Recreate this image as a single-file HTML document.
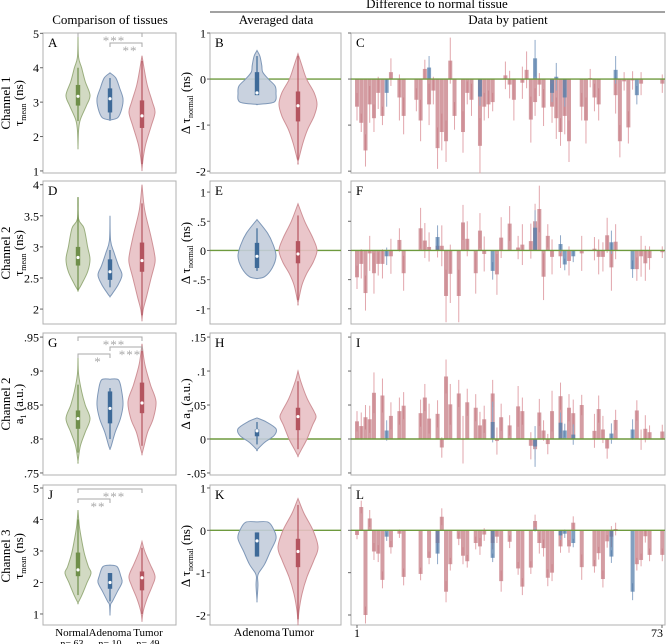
<!DOCTYPE html>
<html><head><meta charset="utf-8">
<style>
body{margin:0;background:#fff;}
svg{display:block;font-family:"Liberation Serif",serif;}
</style></head>
<body>
<svg id="fig" width="669" height="644" viewBox="0 0 669 644" xmlns="http://www.w3.org/2000/svg">
<text x="110" y="24" font-size="13" text-anchor="middle">Comparison of tissues</text>
<text x="437" y="8" font-size="13" text-anchor="middle">Difference to normal tissue</text>
<line x1="210" y1="12" x2="665" y2="12" stroke="#444" stroke-width="1"/>
<text x="276" y="24" font-size="13" text-anchor="middle">Averaged data</text>
<text x="508" y="24" font-size="13" text-anchor="middle">Data by patient</text>
<g id="root"></g>
</svg>
<script>
// ---------- violin data ----------
const A_nV=[4.9,4.3,4.0,3.6,3.2,2.9,2.5,2.2,1.7], A_nD=[0,0.05,0.3,0.6,1.0,0.7,0.2,0.05,0], A_nB=[2.45,2.9,3.17,3.5,4.0];
const A_aV=[3.85,3.7,3.4,3.1,2.8,2.55,2.48], A_aD=[0,0.45,0.75,1.0,0.9,0.6,0], A_aB=[2.5,2.7,3.1,3.4,3.7];
const A_tV=[4.35,4.0,3.5,3.0,2.7,2.3,1.8,1.4,1.05], A_tD=[0,0.15,0.4,0.8,1.0,0.7,0.3,0.1,0], A_tB=[1.2,2.25,2.6,3.05,4.2];
const B_aV=[0.62,0.5,0.3,0.15,0.0,-0.15,-0.3,-0.5,-0.55], B_aD=[0,0.15,0.25,0.3,0.6,0.95,1.0,0.9,0], B_aB=[-0.3,-0.35,-0.3,0.15,0.5];
const B_tV=[0.55,0.3,0,-0.3,-0.55,-0.8,-1.1,-1.4,-1.8], B_tD=[0,0.2,0.45,0.85,1.0,0.85,0.5,0.25,0], B_tB=[-1.75,-0.92,-0.58,-0.27,0.5];
const D_nV=[3.8,3.45,3.3,3.0,2.8,2.6,2.4,2.3], D_nD=[0,0.05,0.5,0.8,1.0,0.8,0.3,0], D_nB=[2.3,2.7,2.83,3.0,3.8];
const D_aV=[3.5,3.1,2.9,2.7,2.55,2.4,2.25,2.2], D_aD=[0,0.05,0.35,0.7,1.0,0.7,0.2,0], D_aB=[2.35,2.47,2.6,2.8,2.95];
const D_tV=[4.0,3.6,3.2,2.9,2.75,2.5,2.2,2.0,1.83], D_tD=[0,0.2,0.65,0.95,1.0,0.7,0.35,0.1,0], D_tB=[1.9,2.6,2.78,3.07,3.7];
const E_aV=[0.53,0.3,0.1,-0.1,-0.3,-0.45,-0.48], E_aD=[0,0.55,0.85,1.0,0.8,0.4,0], E_aB=[-0.35,-0.3,-0.1,0.13,0.38];
const E_tV=[0.8,0.5,0.2,0,-0.2,-0.4,-0.6,-0.9], E_tD=[0,0.35,0.8,1.0,0.8,0.45,0.2,0], E_tB=[-0.85,-0.22,-0.06,0.16,0.6];
const G_nV=[0.92,0.895,0.87,0.85,0.83,0.81,0.79,0.767], G_nD=[0,0.05,0.3,0.6,1.0,0.6,0.2,0], G_nB=[0.78,0.815,0.83,0.842,0.88];
const G_aV=[0.888,0.887,0.87,0.85,0.83,0.81,0.79,0.785], G_aD=[0,0.65,0.9,1.0,0.8,0.4,0.1,0], G_aB=[0.8,0.823,0.845,0.87,0.875];
const G_tV=[0.94,0.91,0.88,0.855,0.83,0.81,0.79,0.778], G_tD=[0,0.2,0.6,1.0,0.8,0.4,0.15,0], G_tB=[0.79,0.838,0.853,0.883,0.93];
const H_aV=[0.031,0.025,0.015,0.005,-0.005,-0.016], H_aD=[0,0.5,1.0,0.9,0.4,0], H_aB=[-0.008,0.004,0.012,0.014,0.025];
const H_tV=[0.1,0.085,0.06,0.04,0.032,0.02,0.0,-0.015,-0.025], H_tD=[0,0.15,0.5,0.9,1.0,0.8,0.5,0.2,0], H_tB=[-0.015,0.013,0.033,0.046,0.085];
const J_nV=[4.3,3.8,3.3,2.9,2.5,2.3,2.0,1.6,1.35], J_nD=[0,0.1,0.3,0.5,0.8,1.0,0.7,0.3,0], J_nB=[1.6,2.2,2.4,2.95,4.0];
const J_aV=[2.55,2.5,2.2,2.0,1.7,1.4,1.3,1.0], J_aD=[0,0.6,0.9,1.0,0.6,0.2,0.05,0], J_aB=[1.4,1.8,2.0,2.3,2.3];
const J_tV=[3.3,3.0,2.6,2.2,1.9,1.5,1.1,0.8], J_tD=[0,0.2,0.6,1.0,0.8,0.4,0.1,0], J_tB=[1.0,1.75,2.15,2.35,3.1];
const K_aV=[0.2,0.19,0.0,-0.2,-0.5,-0.8,-1.0,-1.1,-1.3,-1.65], K_aD=[0,0.6,0.9,1.0,0.7,0.4,0.1,0.03,0.05,0], K_aB=[-0.62,-0.62,-0.25,-0.05,-0.05];
const K_tV=[0.75,0.4,0,-0.4,-0.7,-1.1,-1.5,-1.9,-2.2], K_tD=[0,0.3,0.75,1.0,0.8,0.45,0.2,0.05,0], K_tB=[-2.1,-0.87,-0.5,-0.2,0.6];

// ---------- per-patient bar data ----------
const C_t=[-0.6,-0.95,-1.55,-0.55,-0.85,-0.3,-0.8,null,0.15,null,-0.4,-0.8,null,null,-0.45,-0.9,0.22,-0.55,-0.25,-1.5,-1.15,-1.35,0.4,-0.8,null,-1.15,-0.3,-0.45,null,-1.45,-0.6,-0.55,-0.5,null,null,0.08,-0.12,-0.45,null,-0.08,0.2,-0.88,-0.5,-0.12,-0.62,null,-0.6,-0.85,-1.15,-0.8,-1.35,null,null,-0.6,-0.9,0.02,-0.4,-0.55,null,null,null,-0.35,-1.35,-0.05,-1.05,-0.03,null,-0.1,null,null,null,null,-0.1];
const C_err=[.3,.2,.35,.4,.3,.35,.2,.3,.3,0,.5,.4,0,0,.25,.45,.2,.45,.3,.45,.4,.45,.5,.3,0,.45,.25,.35,0,.6,.3,.3,.2,0,0,.3,.3,.45,0,.35,.4,.5,.3,.25,.4,0,.35,.45,.3,.4,.45,0,0,.3,.5,.2,.3,.35,0,0,0,.4,.35,.2,.35,.2,0,.25,0,0,0,0,.2];
const C_aIdx=[8,18,30,43,47,48,50,62,67], C_aVal=[-0.3,0.25,-0.38,0.45,-0.3,0.05,-0.4,0.2,-0.35], C_aErr=[0.3,0.25,0.2,0.4,0.2,0.3,0.2,0.3,0.2];
const F_t=[-0.46,-0.23,-0.73,-0.05,-0.39,-0.23,-0.23,null,-0.1,null,0.18,-0.39,null,null,null,0.38,0.17,0.06,null,0.08,0.08,-0.78,-0.4,null,-0.78,0.48,0.2,null,-0.39,0.34,-0.06,null,null,-0.41,0.22,null,0.46,null,0.05,0.1,null,0.16,0.5,0.71,-0.45,0.25,-0.11,null,-0.1,null,-0.18,null,null,-0.05,null,null,0.03,-0.11,-0.11,0.26,-0.29,0.15,null,null,null,null,-0.32,-0.1,-0.22,-0.13,null,null,-0.03];
const F_err=[.2,.25,.3,.3,.35,.2,.25,0,.3,0,.2,.3,0,0,0,.35,.3,.25,0,.2,.35,.45,.5,0,.45,.3,.3,0,.35,.3,.3,0,0,.35,.35,0,.3,0,.2,.35,0,.3,.3,.4,.4,.2,.3,0,.2,0,.25,0,0,.3,0,0,.2,.3,.25,.3,.4,.3,0,0,0,0,.2,.35,.3,.2,0,0,.1];
const F_aIdx=[8,20,33,43,49,50,52,61,66], F_aVal=[-0.1,0.23,-0.35,0.39,0.11,-0.24,-0.1,0.14,-0.32], F_aErr=[0.15,0.2,0.15,0.3,0.15,0.1,0.1,0.2,0.15];
const I_t=[.026,.019,.032,.029,.068,null,.064,null,.034,null,.041,.049,null,null,null,.038,.061,.03,null,.037,-.0125,.092,.051,null,.067,-.001,.054,null,.046,.02,.029,null,.067,-.003,.032,null,.02,null,.048,.041,null,-.01,-.015,.039,.0125,-.0075,.041,null,.063,null,.046,.038,null,.05,null,null,.012,.044,.014,-.014,null,.028,null,null,null,null,.042,-.001,.015,.01,null,null,.011];
const I_err=[.015,.02,.018,.02,.03,0,.025,0,.02,0,.02,.02,0,0,0,.02,.02,.022,0,.02,.015,.025,.03,0,.02,.035,.02,0,.02,.02,.02,0,.02,.02,.02,0,.015,0,.03,.02,0,.02,.015,.02,.015,.015,.03,0,.02,0,.02,.02,0,.015,0,0,.025,.02,.02,.015,0,.015,0,0,0,0,.015,.015,.02,.01,0,0,.01];
const I_aIdx=[8,33,43,49,50,52,61,66], I_aVal=[.0125,.025,-.011,.024,.0125,.0065,.008,.014], I_aErr=[.015,.03,.03,.015,.01,.015,.015,.015];
const L_t=[-.11,.55,-2.0,.28,-.5,-.55,-1.17,null,-.4,null,-.08,-1.1,null,null,null,-1.03,null,-.65,null,-.3,.32,-1.45,-.8,null,-.2,-.6,-.73,null,-.3,-.38,-.1,null,-.3,-.15,-1.2,null,-.27,null,-.9,-1.33,null,-.88,.22,-.3,-.42,-1.12,-1.0,null,-.38,null,-.38,.18,null,-.87,null,null,-.85,-.54,-1.15,-.26,-.15,.03,null,null,null,null,-.8,-.7,-.14,-.58,null,null,-.58];
const L_err=[.1,.15,.2,.2,.2,.2,.2,0,.15,0,.1,.2,0,0,0,.15,0,.15,0,.2,.2,.25,.15,0,.15,.2,.15,0,.15,.2,.15,0,.15,.15,.25,0,.15,0,.15,.2,0,.15,.15,.25,.2,.2,.2,0,.15,0,.15,.15,0,.3,0,0,.15,.15,.2,.15,.25,.15,0,0,0,0,.15,.15,.15,.15,0,0,.15];
const L_aIdx=[8,20,33,43,49,50,52,61,66], L_aVal=[-.15,-.55,-.65,.02,-.12,-.08,-.3,-.62,-1.45], L_aErr=[.1,.25,.1,.05,.1,.1,.1,.15,.2];

const NS='http://www.w3.org/2000/svg';
const root=document.getElementById('root');
function mk(tag,attrs,parent){const e=document.createElementNS(NS,tag);for(const k in attrs)e.setAttribute(k,attrs[k]);(parent||root).appendChild(e);return e;}
function scaleY(y0,y1,d0,d1){return v=>y1-(v-d0)/(d1-d0)*(y1-y0);}

const COL={n:{fill:'#cdd6bd',stroke:'#9aae7e',box:'#6f8f4a'},a:{fill:'#c3cddc',stroke:'#7f98b8',box:'#3e6a98'},t:{fill:'#e8c0c4',stroke:'#cf9298',box:'#b4545f'}};

function frame(x0,y0,x1,y1,letter,name){
  const r=mk('rect',{x:x0,y:y0,width:x1-x0,height:y1-y0,fill:'none',stroke:'#b0b0b0','stroke-width':1});
  
  
  const t=mk('text',{x:x0+5,y:y0+14,'font-size':13});t.textContent=letter;
  
  
}
function ticks(x0,sy,vals,labels,name){
  vals.forEach((v,i)=>{
    const y=sy(v);
    const l=mk('line',{x1:x0-3,x2:x0,y1:y,y2:y,stroke:'#666'});
    
    
    if(labels){const t=mk('text',{x:x0-4,y:y+4.5,'font-size':12,'text-anchor':'end'});t.textContent=labels[i];
    
    }
  });
}
function violin(cx,hw,sy,vals,dens,box,c,name){
  let pts=[];
  for(let i=0;i<vals.length;i++)pts.push([cx+dens[i]*hw,sy(vals[i])]);
  for(let i=vals.length-1;i>=0;i--)pts.push([cx-dens[i]*hw,sy(vals[i])]);
  let d='M'+pts[0][0]+','+pts[0][1];
  for(let i=0;i<pts.length-1;i++){
    const p0=pts[Math.max(0,i-1)],p1=pts[i],p2=pts[i+1],p3=pts[Math.min(pts.length-1,i+2)];
    d+=' C'+(p1[0]+(p2[0]-p0[0])/6)+','+(p1[1]+(p2[1]-p0[1])/6)+' '+(p2[0]-(p3[0]-p1[0])/6)+','+(p2[1]-(p3[1]-p1[1])/6)+' '+p2[0]+','+p2[1];
  }
  d+='Z';
  const p=mk('path',{d:d,fill:c.fill,stroke:c.stroke,'stroke-width':1,'fill-opacity':0.9});
  
  
  const w=mk('line',{x1:cx,x2:cx,y1:sy(box[0]),y2:sy(box[4]),stroke:c.box,'stroke-width':1.2});
  
  
  const b=mk('rect',{x:cx-2.2,y:sy(box[3]),width:4.4,height:Math.max(1,sy(box[1])-sy(box[3])),fill:c.box});
  
  
  const m=mk('circle',{cx:cx,cy:sy(box[2]),r:1.6,fill:'#fff'});
  
  
}
function zero(x0,x1,sy,name){
  const l=mk('line',{x1:x0,x2:x1,y1:sy(0),y2:sy(0),stroke:'#6e9a3e','stroke-width':1.4});
  
  
}
function bars(x0,sy,tv,te,aIdx,aVal,aErr,name){
  const px=i=>357+(i-1)*4.24;
  const y0=sy(0);
  tv.forEach((v,k)=>{
    if(v===null)return;
    const x=px(k+1),y=sy(v);
    const e=mk('line',{x1:x,x2:x,y1:sy(v-te[k]),y2:sy(v+te[k]),stroke:'#e2a6ac','stroke-width':1});
    
    
    const r=mk('rect',{x:x-2,y:Math.min(y,y0),width:4,height:Math.abs(y-y0),fill:'#c47780','fill-opacity':0.72});
    
    
  });
  aIdx.forEach((i,k)=>{
    const x=px(i),v=aVal[k],y=sy(v);
    const e=mk('line',{x1:x,x2:x,y1:sy(v-aErr[k]),y2:sy(v+aErr[k]),stroke:'#8fa9c8','stroke-width':1});
    
    
    const r=mk('rect',{x:x-2,y:Math.min(y,y0),width:4,height:Math.abs(y-y0),fill:'#4d77a6','fill-opacity':0.7});
    
    
  });
}
function bracket(x1,x2,y,label,name){
  const p=mk('path',{d:`M${x1},${y+4}V${y}H${x2}V${y+4}`,fill:'none',stroke:'#aaa','stroke-width':1});
  
  
  const t=mk('text',{x:(x1+x2)/2+4,y:y+12,'font-size':13,fill:'#a8a8a8','text-anchor':'middle','letter-spacing':'1'});
  t.textContent=label;
  
  
}
function ylabel(x,yc,lines,name){
  const t=mk('text',{transform:`translate(${x},${yc}) rotate(-90)`,'font-size':13,'text-anchor':'middle'});
  
  
  t.innerHTML=lines;
}

const AX=[43,176],BX=[210,341],CX=[351,665];
const ROWS=[[33,173],[181,324],[333,475],[485,625]];
const cN=78,cA=110,cT=142,bA=257,bT=298;
const YL1=10,YL2=23,YLB=190;
const TAU='τ<tspan font-size="8" dy="3">mean</tspan><tspan dy="-3"> (ns)</tspan>';
const DTAU='Δ τ<tspan font-size="8" dy="3">normal</tspan><tspan dy="-3"> (ns)</tspan>';

// Row 1
{const [y0,y1]=ROWS[0];
 const sA=scaleY(y0,y1,0.94,5.01),sB=scaleY(y0,y1,-2.04,1.0);
 frame(AX[0],y0,AX[1],y1,'A','panel-a');ticks(AX[0],sA,[1,2,3,4,5],['1','2','3','4','5'],'panel-a');
 violin(cN,12,sA,A_nV,A_nD,A_nB,COL.n,'panel-a-normal');violin(cA,13,sA,A_aV,A_aD,A_aB,COL.a,'panel-a-adenoma');violin(cT,13,sA,A_tV,A_tD,A_tB,COL.t,'panel-a-tumor');
 bracket(cN,cT,y0,'***','panel-a-normal-tumor');bracket(cA,cT,y0+10,'**','panel-a-adenoma-tumor');
 frame(BX[0],y0,BX[1],y1,'B','panel-b');ticks(BX[0],sB,[-2,-1,0,1],['-2','-1','0','1'],'panel-b');
 zero(BX[0],BX[1],sB,'panel-b');
 violin(bA,19,sB,B_aV,B_aD,B_aB,COL.a,'panel-b-adenoma');violin(bT,19,sB,B_tV,B_tD,B_tB,COL.t,'panel-b-tumor');
 frame(CX[0],y0,CX[1],y1,'C','panel-c');ticks(CX[0],sB,[-2,-1,0,1],null,'panel-c');
 bars(CX[0],sB,C_t,C_err,C_aIdx,C_aVal,C_aErr,'panel-c');zero(CX[0],CX[1],sB,'panel-c');
 ylabel(YL1,103,'Channel 1','row1-channel-label');ylabel(YL2,103,TAU,'panel-a-y-title');
 ylabel(YLB,103,DTAU,'panel-b-y-title');
}
// Row 2
{const [y0,y1]=ROWS[1];
 const sA=scaleY(y0,y1,1.76,4.06),sB=scaleY(y0,y1,-1.26,1.19);
 frame(AX[0],y0,AX[1],y1,'D','panel-d');ticks(AX[0],sA,[2,2.5,3,3.5,4],['2','2.5','3','3.5','4'],'panel-d');
 violin(cN,12,sA,D_nV,D_nD,D_nB,COL.n,'panel-d-normal');violin(cA,12,sA,D_aV,D_aD,D_aB,COL.a,'panel-d-adenoma');violin(cT,13,sA,D_tV,D_tD,D_tB,COL.t,'panel-d-tumor');
 frame(BX[0],y0,BX[1],y1,'E','panel-e');ticks(BX[0],sB,[-1,-0.5,0,0.5,1],['-1','-.5','0','.5','1'],'panel-e');
 zero(BX[0],BX[1],sB,'panel-e');
 violin(bA,19,sB,E_aV,E_aD,E_aB,COL.a,'panel-e-adenoma');violin(bT,19,sB,E_tV,E_tD,E_tB,COL.t,'panel-e-tumor');
 frame(CX[0],y0,CX[1],y1,'F','panel-f');ticks(CX[0],sB,[-1,-0.5,0,0.5,1],null,'panel-f');
 bars(CX[0],sB,F_t,F_err,F_aIdx,F_aVal,F_aErr,'panel-f');zero(CX[0],CX[1],sB,'panel-f');
 ylabel(YL1,253,'Channel 2','row2-channel-label');ylabel(YL2,253,TAU,'panel-d-y-title');
 ylabel(YLB,253,DTAU,'panel-e-y-title');
}
// Row 3
{const [y0,y1]=ROWS[2];
 const sA=scaleY(y0,y1,0.747,0.956),sB=scaleY(y0,y1,-0.053,0.156);
 frame(AX[0],y0,AX[1],y1,'G','panel-g');ticks(AX[0],sA,[0.75,0.8,0.85,0.9,0.95],['.75','.8','.85','.9','.95'],'panel-g');
 violin(cN,12,sA,G_nV,G_nD,G_nB,COL.n,'panel-g-normal');violin(cA,13,sA,G_aV,G_aD,G_aB,COL.a,'panel-g-adenoma');violin(cT,14,sA,G_tV,G_tD,G_tB,COL.t,'panel-g-tumor');
 bracket(cN,cT,y0+4,'***','panel-g-normal-tumor');bracket(cA,cT,y0+14,'***','panel-g-adenoma-tumor');bracket(cN,cA,y0+21,'*','panel-g-normal-adenoma');
 frame(BX[0],y0,BX[1],y1,'H','panel-h');ticks(BX[0],sB,[-0.05,0,0.05,0.1,0.15],['-.05','0','.05','.1','.15'],'panel-h');
 zero(BX[0],BX[1],sB,'panel-h');
 violin(bA,19,sB,H_aV,H_aD,H_aB,COL.a,'panel-h-adenoma');violin(bT,18,sB,H_tV,H_tD,H_tB,COL.t,'panel-h-tumor');
 frame(CX[0],y0,CX[1],y1,'I','panel-i');ticks(CX[0],sB,[-0.05,0,0.05,0.1,0.15],null,'panel-i');
 bars(CX[0],sB,I_t,I_err,I_aIdx,I_aVal,I_aErr,'panel-i');zero(CX[0],CX[1],sB,'panel-i');
 ylabel(YL1,404,'Channel 2','row3-channel-label');ylabel(YL2,404,'a<tspan font-size="8" dy="3">1</tspan><tspan dy="-3"> (a.u.)</tspan>','panel-g-y-title');
 ylabel(YLB,404,'Δ a<tspan font-size="8" dy="3">1</tspan><tspan dy="-3"> (a.u.)</tspan>','panel-h-y-title');
}
// Row 4
{const [y0,y1]=ROWS[3];
 const sA=scaleY(y0,y1,0.65,5.095),sB=scaleY(y0,y1,-2.236,1.07);
 frame(AX[0],y0,AX[1],y1,'J','panel-j');ticks(AX[0],sA,[1,2,3,4,5],['1','2','3','4','5'],'panel-j');
 violin(cN,13,sA,J_nV,J_nD,J_nB,COL.n,'panel-j-normal');violin(cA,12,sA,J_aV,J_aD,J_aB,COL.a,'panel-j-adenoma');violin(cT,13,sA,J_tV,J_tD,J_tB,COL.t,'panel-j-tumor');
 bracket(cN,cT,y0+4,'***','panel-j-normal-tumor');bracket(cN,cA,y0+14,'**','panel-j-normal-adenoma');
 frame(BX[0],y0,BX[1],y1,'K','panel-k');ticks(BX[0],sB,[-2,-1,0,1],['-2','-1','0','1'],'panel-k');
 zero(BX[0],BX[1],sB,'panel-k');
 violin(bA,19,sB,K_aV,K_aD,K_aB,COL.a,'panel-k-adenoma');violin(bT,20,sB,K_tV,K_tD,K_tB,COL.t,'panel-k-tumor');
 frame(CX[0],y0,CX[1],y1,'L','panel-l');ticks(CX[0],sB,[-2,-1,0,1],null,'panel-l');
 bars(CX[0],sB,L_t,L_err,L_aIdx,L_aVal,L_aErr,'panel-l');zero(CX[0],CX[1],sB,'panel-l');
 ylabel(YL1,556,'Channel 3','row4-channel-label');ylabel(YL2,556,TAU,'panel-j-y-title');
 ylabel(YLB,556,DTAU,'panel-k-y-title');
 [[357,357,'1'],[662,657,'73']].forEach(([x,tx,s])=>{
   const l=mk('line',{x1:x,x2:x,y1:625,y2:628,stroke:'#666'});
   
   
   const t=mk('text',{x:tx,y:637,'font-size':12,'text-anchor':'middle'});t.textContent=s;
   
   
 });
}
// category labels
[[72,'Normal','n= 63'],[110,'Adenoma','n= 10'],[148,'Tumor','n= 49']].forEach(([x,a,b])=>{
  const t=mk('text',{x:x,y:636,'font-size':11,'text-anchor':'middle'});t.textContent=a;
  
  
  const n=mk('text',{x:x,y:647,'font-size':10,'text-anchor':'middle'});n.textContent=b;
  
  
});
[[bA,'Adenoma'],[bT,'Tumor']].forEach(([x,a])=>{
  const t=mk('text',{x:x,y:636,'font-size':12,'text-anchor':'middle'});t.textContent=a;
  
  
});
</script>
</body></html>
